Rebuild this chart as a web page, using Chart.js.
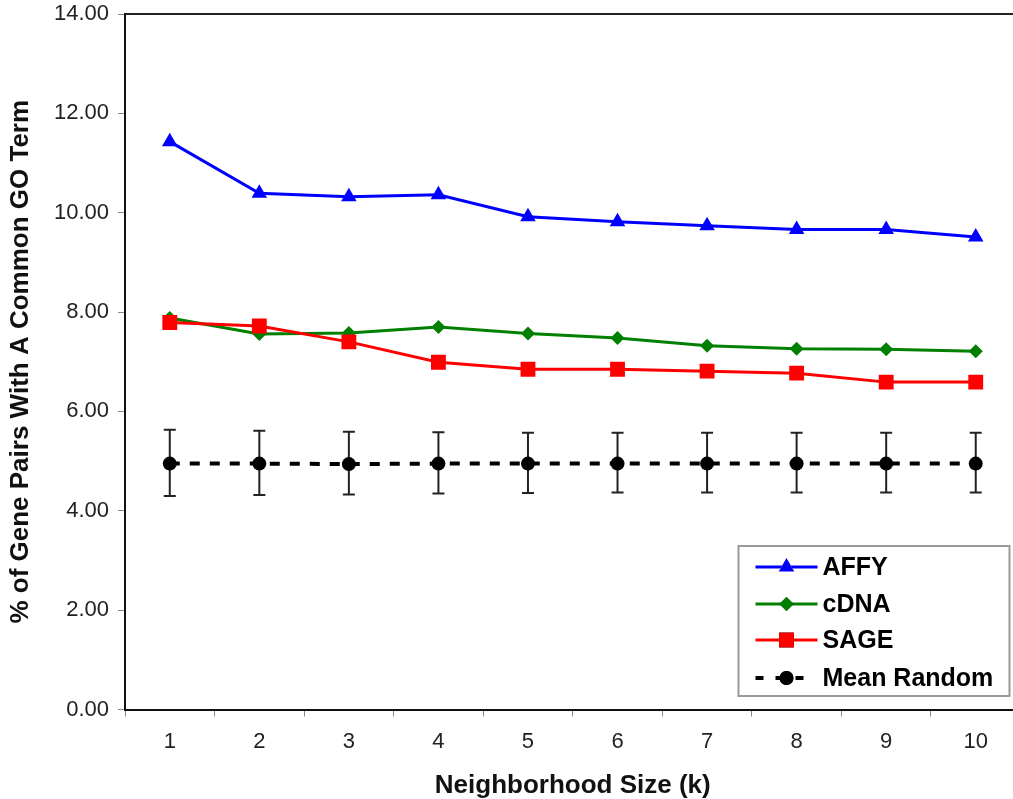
<!DOCTYPE html>
<html>
<head>
<meta charset="utf-8">
<style>
  html, body { margin: 0; padding: 0; background: #fff; overflow: hidden; }
  #wrap { position: absolute; left: 0; top: 0; width: 1031px; height: 799px; }
</style>
<script src="https://cdn.jsdelivr.net/npm/chart.js@4/dist/chart.umd.min.js"></script>
</head>
<body>
<div id="wrap"><canvas id="c" width="1031" height="799"></canvas></div>
<script>
const categories = ['1', '2', '3', '4', '5', '6', '7', '8', '9', '10'];
const affy = [11.43, 10.39, 10.32, 10.36, 9.92, 9.82, 9.74, 9.66, 9.66, 9.51];
const cdna = [7.88, 7.56, 7.58, 7.70, 7.57, 7.48, 7.32, 7.26, 7.25, 7.21];
const sage = [7.79, 7.72, 7.40, 6.99, 6.85, 6.85, 6.81, 6.77, 6.59, 6.59];
const meanRandom = [4.95, 4.95, 4.94, 4.95, 4.95, 4.95, 4.95, 4.95, 4.95, 4.95];
const randomUpper = [5.63, 5.61, 5.59, 5.58, 5.57, 5.57, 5.57, 5.57, 5.57, 5.57];
const randomLower = [4.30, 4.32, 4.33, 4.35, 4.36, 4.37, 4.37, 4.37, 4.37, 4.37];
const yTicks = [0, 2, 4, 6, 8, 10, 12, 14];
const seriesNames = ['AFFY', 'cDNA', 'SAGE', 'Mean Random'];
const xTitle = 'Neighborhood Size (k)';
const yTitle = '% of Gene Pairs With A Common GO Term';

const FONT = "'Liberation Sans', Arial, Helvetica, sans-serif";

const errorBars = {
  id: 'errorBars',
  beforeDatasetsDraw(chart) {
    const x = chart.scales.x, y = chart.scales.y, ctx = chart.ctx;
    ctx.save();
    ctx.strokeStyle = '#222';
    ctx.lineWidth = 2;
    categories.forEach((c, i) => {
      const px = x.getPixelForValue(i);
      const yt = y.getPixelForValue(randomUpper[i]);
      const yb = y.getPixelForValue(randomLower[i]);
      ctx.beginPath();
      ctx.moveTo(px, yt); ctx.lineTo(px, yb);
      ctx.moveTo(px - 6, yt); ctx.lineTo(px + 6, yt);
      ctx.moveTo(px - 6, yb); ctx.lineTo(px + 6, yb);
      ctx.stroke();
    });
    ctx.restore();
  }
};

const frame = {
  id: 'frame',
  afterDraw(chart) {
    const a = chart.chartArea, ctx = chart.ctx;
    ctx.save();
    ctx.strokeStyle = '#222';
    ctx.lineWidth = 2;
    ctx.beginPath();
    ctx.moveTo(a.left, a.top); ctx.lineTo(a.right, a.top);
    ctx.stroke();
    ctx.restore();
  }
};

const boxLegend = {
  id: 'boxLegend',
  afterDraw(chart) {
    const a = chart.chartArea, ctx = chart.ctx;
    const w = 271, h = 150;
    const bx = a.right - 11 - w, by = a.bottom - 13.5 - h;
    ctx.save();
    ctx.fillStyle = '#fff';
    ctx.fillRect(bx, by, w, h);
    ctx.strokeStyle = '#999';
    ctx.lineWidth = 2;
    ctx.strokeRect(bx, by, w, h);
    const rows = [21, 58, 94, 132];
    chart.data.datasets.forEach((ds, i) => {
      const cy = by + rows[i];
      const x0 = bx + 17, mx = bx + 48;
      const x1 = ds.borderDash ? bx + 67 : bx + 79;
      ctx.save();
      ctx.strokeStyle = ds.borderColor;
      ctx.lineWidth = ds.borderWidth;
      if (ds.borderDash) { ctx.setLineDash([8, 12]); }
      ctx.beginPath(); ctx.moveTo(x0, cy); ctx.lineTo(x1, cy); ctx.stroke();
      ctx.restore();
      Chart.helpers.drawPoint(ctx, {
        pointStyle: ds.pointStyle, radius: ds.pointRadius, rotation: 0, borderWidth: 0
      }, mx, cy);
      ctx.fillStyle = ds.pointBackgroundColor;
      ctx.fill();
      ctx.fillStyle = '#000';
      ctx.font = 'bold 25px ' + FONT;
      ctx.textBaseline = 'middle';
      ctx.textAlign = 'left';
      ctx.fillText(seriesNames[i], bx + 84, cy + 1);
    });
    ctx.restore();
  }
};

new Chart(document.getElementById('c'), {
  type: 'line',
  data: {
    labels: categories,
    datasets: [
      { label: seriesNames[0], data: affy, borderColor: '#0000ff', backgroundColor: '#0000ff',
        pointBackgroundColor: '#0000ff', pointBorderColor: '#0000ff', borderWidth: 3,
        pointStyle: 'triangle', pointRadius: 9, pointBorderWidth: 0, order: 0, tension: 0 },
      { label: seriesNames[1], data: cdna, borderColor: '#008000', backgroundColor: '#008000',
        pointBackgroundColor: '#008000', pointBorderColor: '#008000', borderWidth: 3,
        pointStyle: 'rectRot', pointRadius: 7, pointBorderWidth: 0, order: 2, tension: 0 },
      { label: seriesNames[2], data: sage, borderColor: '#ff0000', backgroundColor: '#ff0000',
        pointBackgroundColor: '#ff0000', pointBorderColor: '#ff0000', borderWidth: 3,
        pointStyle: 'rect', pointRadius: 10.5, pointBorderWidth: 0, order: 1, tension: 0 },
      { label: seriesNames[3], data: meanRandom, borderColor: '#000000', backgroundColor: '#000000',
        pointBackgroundColor: '#000000', pointBorderColor: '#000000', borderWidth: 4,
        borderDash: [10, 10], pointStyle: 'circle', pointRadius: 7, pointBorderWidth: 0, order: 3, tension: 0 }
    ]
  },
  options: {
    responsive: false,
    animation: false,
    devicePixelRatio: 1,
    layout: { padding: { top: 14, right: 5, left: 0, bottom: 0 } },
    plugins: { legend: { display: false }, tooltip: { enabled: false } },
    scales: {
      x: {
        type: 'category',
        offset: true,
        grid: { offset: true, drawOnChartArea: false, drawTicks: true, tickLength: 7, color: '#888', lineWidth: 1 },
        border: { display: true, color: '#111', width: 2 },
        ticks: { font: { family: FONT, size: 22 }, color: '#222', padding: 12, maxRotation: 0, autoSkip: false },
        title: { display: true, text: xTitle, font: { family: FONT, size: 26, weight: 'bold' }, color: '#111', padding: { top: 0, bottom: -2 } },
        afterFit(s) { s.height = 89.5; }
      },
      y: {
        min: 0, max: 14,
        afterBuildTicks(s) { s.ticks = yTicks.map(v => ({ value: v })); },
        grid: { drawOnChartArea: false, drawTicks: true, tickLength: 7, color: '#888', lineWidth: 1 },
        border: { display: true, color: '#111', width: 2 },
        ticks: { font: { family: FONT, size: 22 }, color: '#222', padding: 9, callback: v => Number(v).toFixed(2) },
        title: { display: true, text: yTitle, font: { family: FONT, size: 26, weight: 'bold' }, color: '#111', padding: { top: 5, bottom: 0 } },
        afterFit(s) { s.width = 125; s.paddingTop = 0; s.paddingBottom = 0; }
      }
    }
  },
  plugins: [errorBars, frame, boxLegend]
});
</script>
</body>
</html>
